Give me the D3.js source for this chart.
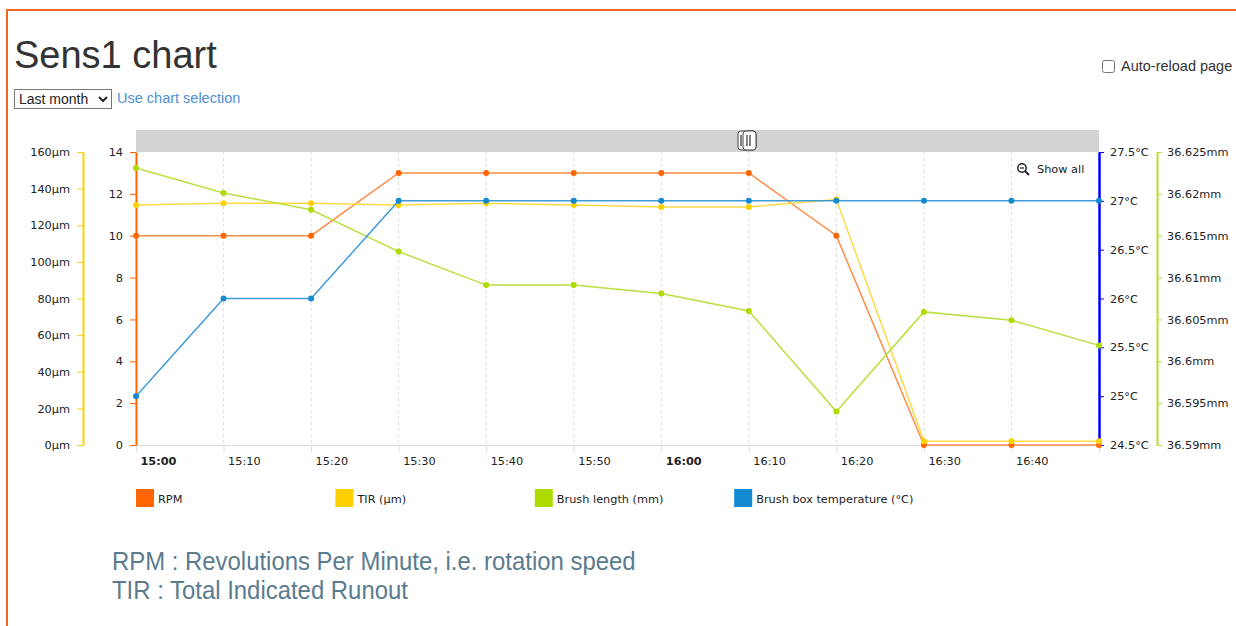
<!DOCTYPE html>
<html><head>
<meta charset="utf-8">
<title>Sens1 chart</title>
<script src="https://d3js.org/d3.v7.min.js"></script>
<style>
  body { margin: 0; width: 1236px; height: 626px; overflow: hidden; background: #fff; position: relative; }
  .frame { position: absolute; left: 6px; top: 9px; width: 1300px; height: 700px;
           border-top: 2px solid #f26522; border-left: 2px solid #f26522; }
  h1 { position: absolute; left: 14px; top: 34px; margin: 0; font: 38px "Liberation Sans", Arial, sans-serif; color: #333; }
  .period { position: absolute; left: 14px; top: 89px; width: 98px; height: 20px;
            font: 14px "Liberation Sans", Arial, sans-serif; color: #222; border: 1px solid #767676; border-radius: 0; padding: 0; background: #fff; }
  .selection { position: absolute; left: 117px; top: 90px; font: 14.5px "Liberation Sans", Arial, sans-serif; color: #4d90d6; text-decoration: none; }
  .reload { position: absolute; left: 1100px; top: 58px; font: 14.5px "Liberation Sans", Arial, sans-serif; color: #333; }
  .reload input { margin: 0 6px 0 2px; width: 13px; height: 13px; vertical-align: -2px; }
  svg { position: absolute; left: 0; top: 0; }
  .chart text { font-family: "DejaVu Sans", Verdana, sans-serif; font-size: 11.3px; fill: #222; }
  .note { font-family: "Liberation Sans", Arial, sans-serif; font-size: 26px; fill: #5b7b8e; }
</style>
</head>
<body>
<div class="frame"></div>
<h1>Sens1 chart</h1>
<select class="period"><option>Last month</option></select>
<a class="selection" href="#">Use chart selection</a>
<label class="reload"><input type="checkbox">Auto-reload page</label>
<svg width="1236" height="626"></svg>

<script>
// readings every 10 minutes, 15:00 to 16:50
let times = ["15:00", "15:10", "15:20", "15:30", "15:40", "15:50", "16:00", "16:10", "16:20", "16:30", "16:40", "16:50"];
let rpm = [10, 10, 10, 13, 13, 13, 13, 13, 10, 0, 0, 0];
let tir = [131, 132, 132, 131, 132, 131, 130, 130, 134, 2, 2, 2];
let brushLength = [36.6231, 36.6201, 36.6181, 36.6131, 36.6091, 36.6091, 36.6081, 36.6060, 36.5940, 36.6059, 36.6049, 36.6019];
let boxTemp = [25, 26, 26, 27, 27, 27, 27, 27, 27, 27, 27, 27];

let rpmTicks = [0, 2, 4, 6, 8, 10, 12, 14];
let tirTicks = [0, 20, 40, 60, 80, 100, 120, 140, 160];
let tempTicks = [24.5, 25, 25.5, 26, 26.5, 27, 27.5];
let lengthTicks = [36.59, 36.595, 36.6, 36.605, 36.61, 36.615, 36.62, 36.625];

let legendNames = ["RPM", "TIR (µm)", "Brush length (mm)", "Brush box temperature (°C)"];
let notes = ["RPM : Revolutions Per Minute, i.e. rotation speed", "TIR : Total Indicated Runout"];

let parse = d3.timeParse("%H:%M");
let dates = times.map(parse);

let plotLeft = 136, plotRight = 1099, plotTop = 152, plotBottom = 445;

let x = d3.scaleTime().domain(d3.extent(dates)).range([plotLeft, plotRight]);
let yRpm = d3.scaleLinear().domain([0, 14]).range([plotBottom, plotTop]);
let yTir = d3.scaleLinear().domain([0, 160]).range([plotBottom, plotTop]);
let yTemp = d3.scaleLinear().domain([24.5, 27.5]).range([plotBottom, plotTop]);
let yLen = d3.scaleLinear().domain([36.59, 36.625]).range([plotBottom, plotTop]);

let series = [
  { values: rpm, y: yRpm, color: "#ff6600", line: "#ff7f33" },
  { values: tir, y: yTir, color: "#ffd100", line: "#ffd530" },
  { values: brushLength, y: yLen, color: "#aedb00", line: "#b2dc2a" },
  { values: boxTemp, y: yTemp, color: "#1289d1", line: "#2a91d4" }
];

let svg = d3.select("svg");
let chart = svg.append("g").attr("class", "chart");

// scrollbar band on top of the plot
chart.append("rect").attr("x", plotLeft).attr("y", 130).attr("width", plotRight - plotLeft).attr("height", plotTop - 130).attr("fill", "#d3d3d3");
let grip = chart.append("g").attr("transform", "translate(738,131)");
grip.append("rect").attr("width", 18).attr("height", 19).attr("rx", 3).attr("fill", "#fff").attr("stroke", "#444");
grip.append("rect").attr("x", 5).attr("width", 13).attr("height", 19).attr("rx", 3).attr("fill", "#fff").attr("stroke", "#444");
[3, 9, 12].forEach(function(d) {
  grip.append("line").attr("x1", d).attr("x2", d).attr("y1", 4).attr("y2", 15).attr("stroke", "#333").attr("stroke-width", 1.2);
});

// vertical dashed grid
let tickDates = x.ticks(d3.timeMinute.every(10));
chart.selectAll(".grid").data(tickDates).enter().append("line")
    .attr("x1", d => x(d)).attr("x2", d => x(d))
    .attr("y1", plotTop).attr("y2", plotBottom)
    .attr("stroke", "#ddd").attr("stroke-dasharray", "3,3");

// x axis (no label on the last tick, it sits on the right edge)
let lastTick = tickDates[tickDates.length - 1];
let xAxis = chart.append("g").attr("transform", "translate(0," + plotBottom + ")")
    .call(d3.axisBottom(x).tickValues(tickDates).tickSize(7).tickSizeOuter(0)
      .tickFormat(d => d.getTime() === lastTick.getTime() ? "" : d3.timeFormat("%H:%M")(d)));
xAxis.select(".domain").attr("stroke", "#ddd");
xAxis.selectAll(".tick line").attr("stroke", "#ddd");
xAxis.selectAll(".tick text").attr("text-anchor", "start").attr("x", 4).attr("y", 12).attr("dy", "0.71em")
    .attr("font-weight", d => d.getMinutes() === 0 ? "bold" : null);

// y axes
function styleAxis(g, color, width) {
  g.select(".domain").attr("stroke", color).attr("stroke-width", width);
  g.selectAll(".tick line").attr("stroke", color);
}
let aRpm = chart.append("g").attr("transform", "translate(" + plotLeft + ",0)")
    .call(d3.axisLeft(yRpm).tickValues(rpmTicks).tickSize(6).tickSizeOuter(0).tickPadding(7));
styleAxis(aRpm, "#ff6600", 2);

let aTir = chart.append("g").attr("transform", "translate(83,0)")
    .call(d3.axisLeft(yTir).tickValues(tirTicks).tickSize(6).tickSizeOuter(0).tickPadding(7).tickFormat(d => d + "µm"));
styleAxis(aTir, "#ffd100", 2);

let aTemp = chart.append("g").attr("transform", "translate(" + plotRight + ",0)")
    .call(d3.axisRight(yTemp).tickValues(tempTicks).tickSize(5).tickSizeOuter(0).tickPadding(6).tickFormat(d => d + "°C"));
styleAxis(aTemp, "#0000ff", 2.5);

let aLen = chart.append("g").attr("transform", "translate(1157,0)")
    .call(d3.axisRight(yLen).tickValues(lengthTicks).tickSize(5).tickSizeOuter(0).tickPadding(5).tickFormat(d => (+d.toFixed(3)) + "mm"));
styleAxis(aLen, "#b5df2c", 2);

chart.selectAll(".tick text").attr("fill", "#222");

// series lines and points
series.forEach(function(s) {
  let line = d3.line().x((d, i) => x(dates[i])).y(d => s.y(d));
  chart.append("path").datum(s.values)
      .attr("d", line).attr("fill", "none")
      .attr("stroke", s.line).attr("stroke-width", 1.5).attr("stroke-opacity", 0.9);
  chart.selectAll(null).data(s.values).enter().append("circle")
      .attr("cx", (d, i) => x(dates[i])).attr("cy", d => s.y(d))
      .attr("r", 3).attr("fill", s.color);
});

// "Show all" zoom-out button
let showAll = chart.append("g").attr("transform", "translate(1022,168)");
showAll.append("circle").attr("r", 4.2).attr("fill", "none").attr("stroke", "#222").attr("stroke-width", 1.5);
showAll.append("line").attr("x1", 3).attr("y1", 3).attr("x2", 7).attr("y2", 7).attr("stroke", "#222").attr("stroke-width", 2);
showAll.append("line").attr("x1", -2).attr("x2", 2).attr("y1", 0).attr("y2", 0).attr("stroke", "#222").attr("stroke-width", 1.2);
showAll.append("text").attr("x", 15).attr("y", 4.5).text("Show all");

// legend
let legend = chart.selectAll(".legend").data(legendNames).enter().append("g")
    .attr("transform", (d, i) => "translate(" + (136 + i * 199.4) + ",489)");
legend.append("rect").attr("width", 18).attr("height", 18).attr("fill", (d, i) => series[i].color);
legend.append("text").attr("x", 22).attr("y", 13.5).text(d => d);

// notes under the chart, set in a narrower face than the page font
svg.selectAll(".note").data(notes).enter().append("text")
    .attr("class", "note")
    .attr("transform", (d, i) => "translate(112," + (570 + i * 28.5) + ") scale(0.92,1)")
    .text(d => d);
</script>
</body>
</html>
